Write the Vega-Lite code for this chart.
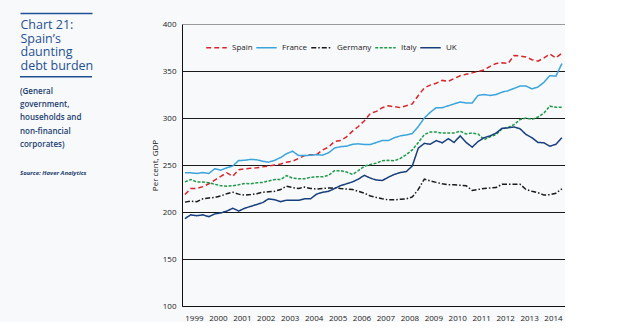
{
  "$schema": "https://vega.github.io/schema/vega-lite/v6.json",
  "background": "#f8f9fb",
  "padding": {"left": 19, "top": 12, "right": 0, "bottom": 0},
  "spacing": 57,
  "resolve": {"legend": {"color": "independent", "strokeDash": "independent"}},
  "config": {
    "view": {"stroke": null},
    "font": "Open Sans",
    "legend": {
      "orient": "none",
      "legendX": 23,
      "legendY": 12,
      "direction": "horizontal",
      "padding": 0,
      "symbolType": "stroke",
      "symbolSize": 420,
      "symbolStrokeWidth": 1.6,
      "labelFont": "Open Sans",
      "labelFontSize": 8,
      "labelColor": "#222222",
      "labelOffset": 4,
      "columnPadding": 0,
      "title": null
    }
  },
  "datasets": {
    "debt": [
      {"date": "1999-02-15", "Spain": 218.6, "France": 241.7, "Germany": 210.5, "Italy": 232, "UK": 193},
      {"date": "1999-05-15", "Spain": 225, "France": 241.7, "Germany": 211.5, "Italy": 234.6, "UK": 197},
      {"date": "1999-08-15", "Spain": 225, "France": 241, "Germany": 211, "Italy": 232, "UK": 196},
      {"date": "1999-11-15", "Spain": 227, "France": 242, "Germany": 214, "Italy": 232, "UK": 197},
      {"date": "2000-02-15", "Spain": 230, "France": 241, "Germany": 215, "Italy": 231, "UK": 195},
      {"date": "2000-05-15", "Spain": 234, "France": 246, "Germany": 215.5, "Italy": 229.5, "UK": 198},
      {"date": "2000-08-15", "Spain": 238, "France": 244.5, "Germany": 217, "Italy": 228, "UK": 199},
      {"date": "2000-11-15", "Spain": 241.7, "France": 247, "Germany": 219.5, "Italy": 227.5, "UK": 201},
      {"date": "2001-02-15", "Spain": 238, "France": 249, "Germany": 221, "Italy": 228, "UK": 204},
      {"date": "2001-05-15", "Spain": 245, "France": 254.8, "Germany": 219, "Italy": 229, "UK": 201},
      {"date": "2001-08-15", "Spain": 246, "France": 255, "Germany": 218, "Italy": 230.3, "UK": 204},
      {"date": "2001-11-15", "Spain": 246.5, "France": 256, "Germany": 218.5, "Italy": 230, "UK": 206},
      {"date": "2002-02-15", "Spain": 247, "France": 255.5, "Germany": 219.5, "Italy": 231, "UK": 208},
      {"date": "2002-05-15", "Spain": 248, "France": 254, "Germany": 221, "Italy": 231.5, "UK": 210},
      {"date": "2002-08-15", "Spain": 249, "France": 253, "Germany": 221.5, "Italy": 233, "UK": 214},
      {"date": "2002-11-15", "Spain": 250, "France": 255, "Germany": 222, "Italy": 234.6, "UK": 213},
      {"date": "2003-02-15", "Spain": 251, "France": 258, "Germany": 224, "Italy": 234.6, "UK": 211},
      {"date": "2003-05-15", "Spain": 253, "France": 262, "Germany": 227.5, "Italy": 238.8, "UK": 212.5},
      {"date": "2003-08-15", "Spain": 254, "France": 264.7, "Germany": 226, "Italy": 236, "UK": 212.5},
      {"date": "2003-11-15", "Spain": 257, "France": 260, "Germany": 225, "Italy": 235.3, "UK": 212.5},
      {"date": "2004-02-15", "Spain": 260, "France": 260, "Germany": 226.5, "Italy": 235.3, "UK": 214},
      {"date": "2004-05-15", "Spain": 261, "France": 260.4, "Germany": 225, "Italy": 237, "UK": 214},
      {"date": "2004-08-15", "Spain": 261, "France": 261, "Germany": 224.5, "Italy": 237.4, "UK": 219},
      {"date": "2004-11-15", "Spain": 266, "France": 260.5, "Germany": 225, "Italy": 237.4, "UK": 221},
      {"date": "2005-02-15", "Spain": 269, "France": 263, "Germany": 225.5, "Italy": 239, "UK": 222},
      {"date": "2005-05-15", "Spain": 275, "France": 268, "Germany": 225.7, "Italy": 244, "UK": 225},
      {"date": "2005-08-15", "Spain": 276, "France": 269.5, "Germany": 225, "Italy": 244, "UK": 228},
      {"date": "2005-11-15", "Spain": 280, "France": 270, "Germany": 224.5, "Italy": 242.5, "UK": 230},
      {"date": "2006-02-15", "Spain": 286, "France": 272, "Germany": 224, "Italy": 240, "UK": 232},
      {"date": "2006-05-15", "Spain": 291, "France": 272.5, "Germany": 222, "Italy": 244, "UK": 235},
      {"date": "2006-08-15", "Spain": 297, "France": 271.8, "Germany": 220, "Italy": 248.7, "UK": 239},
      {"date": "2006-11-15", "Spain": 305, "France": 271.8, "Germany": 217, "Italy": 250.5, "UK": 236},
      {"date": "2007-02-15", "Spain": 307, "France": 274, "Germany": 215.5, "Italy": 252, "UK": 234},
      {"date": "2007-05-15", "Spain": 311, "France": 276, "Germany": 214, "Italy": 254.5, "UK": 233.5},
      {"date": "2007-08-15", "Spain": 313, "France": 276, "Germany": 213, "Italy": 255, "UK": 237},
      {"date": "2007-11-15", "Spain": 312, "France": 279, "Germany": 213, "Italy": 254.5, "UK": 240},
      {"date": "2008-02-15", "Spain": 311, "France": 281, "Germany": 213.5, "Italy": 257, "UK": 242},
      {"date": "2008-05-15", "Spain": 313, "France": 282, "Germany": 214, "Italy": 261, "UK": 243},
      {"date": "2008-08-15", "Spain": 315, "France": 283.5, "Germany": 216, "Italy": 266, "UK": 249},
      {"date": "2008-11-15", "Spain": 324, "France": 291, "Germany": 224, "Italy": 274, "UK": 268},
      {"date": "2009-02-15", "Spain": 332, "France": 300, "Germany": 235, "Italy": 282.4, "UK": 273},
      {"date": "2009-05-15", "Spain": 335, "France": 306, "Germany": 233, "Italy": 285, "UK": 272},
      {"date": "2009-08-15", "Spain": 337, "France": 311, "Germany": 231.5, "Italy": 285, "UK": 276},
      {"date": "2009-11-15", "Spain": 340, "France": 311, "Germany": 230, "Italy": 284, "UK": 273.6},
      {"date": "2010-02-15", "Spain": 339, "France": 313, "Germany": 229, "Italy": 284, "UK": 278},
      {"date": "2010-05-15", "Spain": 342, "France": 315, "Germany": 229, "Italy": 284, "UK": 274},
      {"date": "2010-08-15", "Spain": 345, "France": 317, "Germany": 228.5, "Italy": 286, "UK": 281},
      {"date": "2010-11-15", "Spain": 346.5, "France": 316, "Germany": 228, "Italy": 283, "UK": 274},
      {"date": "2011-02-15", "Spain": 348, "France": 316, "Germany": 223, "Italy": 284, "UK": 269},
      {"date": "2011-05-15", "Spain": 349.5, "France": 324, "Germany": 224, "Italy": 283, "UK": 275},
      {"date": "2011-08-15", "Spain": 351, "France": 325, "Germany": 225, "Italy": 277, "UK": 279},
      {"date": "2011-11-15", "Spain": 355, "France": 324, "Germany": 225.5, "Italy": 280, "UK": 281},
      {"date": "2012-02-15", "Spain": 358, "France": 325, "Germany": 226, "Italy": 282.4, "UK": 284},
      {"date": "2012-05-15", "Spain": 358.7, "France": 327.5, "Germany": 229.5, "Italy": 288.5, "UK": 289},
      {"date": "2012-08-15", "Spain": 358, "France": 329, "Germany": 229.5, "Italy": 290, "UK": 289.5},
      {"date": "2012-11-15", "Spain": 366.5, "France": 331.5, "Germany": 229.5, "Italy": 293, "UK": 290.5},
      {"date": "2013-02-15", "Spain": 366, "France": 334, "Germany": 229.5, "Italy": 298.4, "UK": 288.5},
      {"date": "2013-05-15", "Spain": 365, "France": 334, "Germany": 224, "Italy": 300, "UK": 282.5},
      {"date": "2013-08-15", "Spain": 362, "France": 331, "Germany": 222, "Italy": 298.5, "UK": 279},
      {"date": "2013-11-15", "Spain": 360.5, "France": 333, "Germany": 220.5, "Italy": 301, "UK": 274},
      {"date": "2014-02-15", "Spain": 364, "France": 338, "Germany": 218, "Italy": 305.5, "UK": 273.6},
      {"date": "2014-05-15", "Spain": 368, "France": 345, "Germany": 218.5, "Italy": 312.6, "UK": 270},
      {"date": "2014-08-15", "Spain": 364, "France": 344.5, "Germany": 220, "Italy": 311.5, "UK": 272},
      {"date": "2014-11-15", "Spain": 369, "France": 358, "Germany": 224.7, "Italy": 311.5, "UK": 279}
    ]
  },
  "hconcat": [
    {
      "width": 72,
      "height": 52.7,
      "data": {"values": [{}]},
      "view": {"stroke": "#1f5092", "strokeWidth": 1.5, "strokeDash": [0, 124.7, 72, 1000]},
      "title": {
        "text": ["(General", "government,", "households and", "non-financial", "corporates)"],
        "subtitle": "Source: Haver Analytics",
        "orient": "bottom",
        "anchor": "start",
        "frame": "bounds",
        "offset": 11,
        "font": "Open Sans",
        "fontSize": 8,
        "fontWeight": 600,
        "color": "#1b3d6e",
        "lineHeight": 13.3,
        "subtitleFont": "Open Sans",
        "subtitleFontSize": 6,
        "subtitleFontStyle": "italic",
        "subtitleFontWeight": "bold",
        "subtitleColor": "#1b3d6e",
        "subtitlePadding": 21
      },
      "mark": {"type": "text"},
      "encoding": {
        "x": {
          "datum": 0,
          "type": "quantitative",
          "scale": {"domain": [0, 1]},
          "axis": {
            "orient": "top",
            "offset": 11,
            "labels": false,
            "ticks": false,
            "grid": false,
            "domainColor": "#1f5092",
            "domainWidth": 1.5,
            "title": ["Chart 21:", "Spain’s", "daunting", "debt burden"],
            "titleFont": "Open Sans",
            "titleFontSize": 12.5,
            "titleFontWeight": "normal",
            "titleColor": "#1f5092",
            "titleLineHeight": 13.7,
            "titleAnchor": "start",
            "titleAlign": "left",
            "titleBaseline": "alphabetic",
            "titlePadding": -56.5
          }
        },
        "text": {"value": ""}
      }
    },
    {
      "width": 383,
      "height": 282,
      "data": {"name": "debt"},
      "transform": [
        {"fold": ["Spain", "France", "Germany", "Italy", "UK"], "as": ["series", "value"]}
      ],
      "mark": {"type": "line", "strokeWidth": 1.5},
      "encoding": {
        "x": {
          "field": "date",
          "type": "temporal",
          "scale": {"domain": [{"year": 1999, "month": 1, "date": 1}, {"year": 2015, "month": 1, "date": 1}]},
          "axis": {
            "title": null,
            "values": [
              {"year": 1999, "month": 7, "date": 2}, {"year": 2000, "month": 7, "date": 2},
              {"year": 2001, "month": 7, "date": 2}, {"year": 2002, "month": 7, "date": 2},
              {"year": 2003, "month": 7, "date": 2}, {"year": 2004, "month": 7, "date": 2},
              {"year": 2005, "month": 7, "date": 2}, {"year": 2006, "month": 7, "date": 2},
              {"year": 2007, "month": 7, "date": 2}, {"year": 2008, "month": 7, "date": 2},
              {"year": 2009, "month": 7, "date": 2}, {"year": 2010, "month": 7, "date": 2},
              {"year": 2011, "month": 7, "date": 2}, {"year": 2012, "month": 7, "date": 2},
              {"year": 2013, "month": 7, "date": 2}, {"year": 2014, "month": 7, "date": 2}
            ],
            "format": "%Y",
            "ticks": false,
            "grid": false,
            "domainColor": "#111111",
            "domainWidth": 1.2,
            "labelFont": "Open Sans",
            "labelFontSize": 8,
            "labelColor": "#222222",
            "labelPadding": 8,
            "labelFlush": false,
            "labelOverlap": false
          }
        },
        "y": {
          "field": "value",
          "type": "quantitative",
          "scale": {"domain": [100, 400], "nice": false, "zero": false},
          "axis": {
            "title": "Per cent, GDP",
            "titleFont": "Open Sans",
            "titleFontSize": 8,
            "titleFontWeight": "normal",
            "titleColor": "#222222",
            "titlePadding": 3,
            "values": [100, 150, 200, 250, 300, 350, 400],
            "ticks": false,
            "grid": true,
            "gridColor": {"condition": {"test": "datum.value >= 400", "value": "#9a9a9a"}, "value": "#1a1a1a"},
            "gridWidth": 1,
            "domainColor": "#111111",
            "labelFont": "Open Sans",
            "labelFontSize": 8,
            "labelColor": "#222222",
            "labelPadding": 6
          }
        },
        "color": {
          "field": "series",
          "type": "nominal",
          "scale": {
            "domain": ["Spain", "France", "Germany", "Italy", "UK"],
            "range": ["#d7262b", "#3aa4dc", "#1a1a1a", "#1e9b4a", "#173f7c"]
          },
          "legend": {"title": null}
        },
        "strokeDash": {
          "field": "series",
          "type": "nominal",
          "scale": {
            "domain": ["Spain", "France", "Germany", "Italy", "UK"],
            "range": [[5, 3], [1, 0], [5, 2, 1.5, 2], [3, 1.5], [1, 0]]
          },
          "legend": {"title": null}
        }
      }
    }
  ]
}
